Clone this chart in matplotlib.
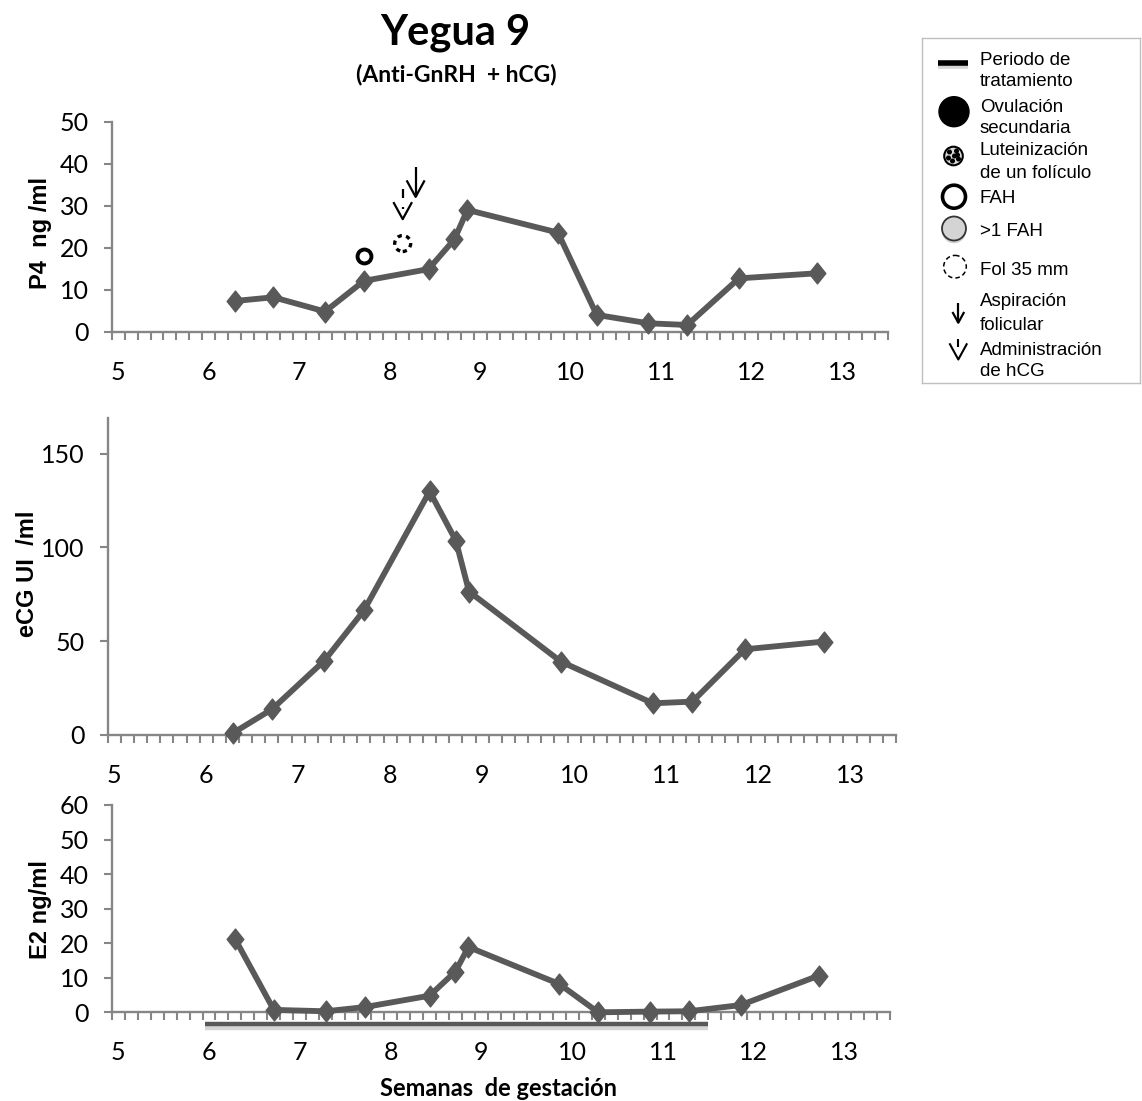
import numpy as np
import matplotlib
matplotlib.use('Agg')
import matplotlib.pyplot as plt
import matplotlib.transforms as mtransforms
import matplotlib.patheffects as pe
from matplotlib.path import Path
from matplotlib.patches import Circle

# dias de gestacion de cada muestra (eje en dias, etiquetas en semanas)
dias = [44, 47, 51, 54, 59, 61, 62, 69, 72, 76, 79, 83, 89]
p4 = [7.3, 8.2, 4.8, 12.1, 14.9, 22.0, 29.0, 23.6, 4.0, 2.0, 1.6, 12.7, 13.9]
dias_ecg = [44, 47, 51, 54, 59, 61, 62, 69, 76, 79, 83, 89]
ecg = [0.9, 13.7, 39.7, 66.4, 129.9, 103.6, 76.5, 39.1, 16.9, 17.8, 45.7, 49.8]
e2 = [21.3, 0.7, 0.3, 1.5, 4.8, 11.8, 18.9, 8.2, 0.0, 0.2, 0.3, 2.1, 10.6]
semanas = [5, 6, 7, 8, 9, 10, 11, 12, 13]

# eventos marcados sobre la curva de P4 (dia, valor)
fah = (54, 18.0)
fol35 = (57, 21.0)
aspiracion = (58, 32.1)
hcg = (57, 26.8)
tratamiento = [41.7, 80.5]

W, H = 1142, 1101
gris = '#868686'
linea = '#595959'

plt.rcParams['font.family'] = ['Lato', 'DejaVu Sans']
fig = plt.figure(figsize=(W / 100, H / 100), dpi=100)


def ejes_px(l, r, t, b):
    return fig.add_axes([l / W, 1 - b / H, (r - l) / W, (b - t) / H])


diamante = Path([(0, 1), (0.8, 0), (0, -1), (-0.8, 0), (0, 1)],
                [Path.MOVETO, Path.LINETO, Path.LINETO, Path.LINETO, Path.CLOSEPOLY])


def estilo(ax, ymax, yticks):
    ax.set_xlim(34.5, 94.5)
    ax.set_ylim(0, ymax)
    for s in ['top', 'right']:
        ax.spines[s].set_visible(False)
    for s in ['left', 'bottom']:
        ax.spines[s].set_color(gris)
        ax.spines[s].set_linewidth(1.7)
    ax.set_yticks(yticks)
    ax.set_xticks([s * 7 for s in semanas])
    ax.set_xticklabels([str(s) for s in semanas])
    ax.set_xticks(np.arange(34.5, 94.6, 1), minor=True)
    ax.tick_params(axis='x', which='major', length=0, pad=21, labelsize=18)
    ax.tick_params(axis='x', which='minor', length=6, width=1.5, color=gris)
    ax.tick_params(axis='y', length=5.5, width=1.5, color=gris, pad=11, labelsize=18)


def serie(ax, x, y):
    ax.plot(x, y, color=linea, lw=4.2, marker=diamante, ms=15,
            mfc=linea, mec=linea, clip_on=False, zorder=3)


def flecha(ax, x, y, s=1.0, lw=1.6, hcg_tipo=False, raya=(21, 30), punto=True):
    # punta en (x, y); geometria en pixeles
    t = mtransforms.Affine2D() + mtransforms.ScaledTranslation(x, y, ax.transData)
    kw = dict(color='k', lw=lw, transform=t, clip_on=False, solid_capstyle='butt')
    if not hcg_tipo:
        ax.plot([0, 0], [0, 30 * s], **kw)
        ax.plot([-9 * s, 0, 9 * s], [16.5 * s, 0, 16.5 * s], **kw)
    else:
        ax.plot([-9.3 * s, 0, 9.3 * s], [17 * s, 0, 17 * s], **kw)
        ax.plot([0, 0], [raya[0] * s, raya[1] * s], **kw)
        if punto:
            ax.plot([0, 0], [10.5 * s, 12 * s], **kw)


# ---- P4 ----
ax1 = ejes_px(111.7, 887.7, 121.7, 331.7)
estilo(ax1, 50, range(0, 51, 10))
serie(ax1, dias, p4)
ax1.plot(*fah, marker='o', ms=10, mfc='none', mec='k', mew=2.8, zorder=4)
ax1.scatter([fol35[0]], [fol35[1]], s=11.5 ** 2, facecolors='none', edgecolors='k',
            linewidths=2.4, linestyle=(0, (1.3, 1.3)), zorder=4)
flecha(ax1, aspiracion[0], aspiracion[1])
flecha(ax1, hcg[0], hcg[1], hcg_tipo=True)

# ---- eCG ----
ax2 = ejes_px(107.7, 896, 418, 735)
estilo(ax2, 169, [0, 50, 100, 150])
serie(ax2, dias_ecg, ecg)

# ---- E2 ----
ax3 = ejes_px(111.7, 890, 805, 1012.3)
estilo(ax3, 60, range(0, 61, 10))
serie(ax3, dias, e2)
ax3.plot(tratamiento, [-3.5, -3.5], color='#595959', lw=3.2, clip_on=False,
         solid_capstyle='butt',
         path_effects=[pe.SimpleLineShadow(offset=(0, -2.5), shadow_color='#888888', alpha=0.35),
                       pe.Normal()])

# etiquetas de ejes
lab = dict(rotation=90, ha='center', va='center', fontsize=17, fontweight='bold',
           family=['Liberation Sans', 'DejaVu Sans'])
fig.text(40 / W, 1 - 233 / H, 'P4  ng /ml', **lab)
fig.text(28 / W, 1 - 574 / H, 'eCG UI  /ml', **lab)
fig.text(40 / W, 1 - 910 / H, 'E2 ng/ml', **lab)

fig.text(455 / W, 1 - 44 / H, 'Yegua 9', ha='center', va='baseline',
         fontsize=30, fontweight='bold')
fig.text(456 / W, 1 - 81.7 / H, '(Anti-GnRH  + hCG)', ha='center', va='baseline',
         fontsize=16.5, fontweight='bold')
fig.text(498 / W, 1 - 1096 / H, 'Semanas  de gestación', ha='center', va='baseline',
         fontsize=17, fontweight='bold')

# ---- leyenda (coordenadas en pixeles de la figura) ----
lg = ejes_px(921.7, 1140, 38.3, 383.3)
lg.set_xlim(921.7, 1140)
lg.set_ylim(383.3, 38.3)
lg.set_xticks([])
lg.set_yticks([])
for s in lg.spines.values():
    s.set_color('#bfbfbf')
    s.set_linewidth(1)

lg.plot([938, 968], [63, 63], color='k', lw=4, solid_capstyle='butt',
        path_effects=[pe.SimpleLineShadow(offset=(0, -2.5), shadow_color='#888888', alpha=0.35),
                      pe.Normal()])
lg.add_patch(Circle((954, 111.7), 15, color='k'))
lg.add_patch(Circle((953.5, 156), 9.3, fc='#d9d9d9', ec='k', lw=1.5))
for dx, dy in [(-4, -4), (3, -5), (-5, 2), (1, 0), (5, 3), (-1, 5), (4, -1)]:
    lg.add_patch(Circle((953.5 + dx, 156 + dy), 1.8, color='k'))
lg.add_patch(Circle((954, 196.7), 11.5, fc='none', ec='k', lw=2.6))
lg.add_patch(Circle((954, 228.5), 12, fc='#d4d4d4', ec='#333333', lw=1.3,
                    path_effects=[pe.SimplePatchShadow(offset=(0, -2), alpha=0.25), pe.Normal()]))
lg.add_patch(Circle((955, 266.7), 11.3, fc='none', ec='k', lw=1.1, ls=(0, (3, 2))))
flecha(lg, 958.3, 322.7, s=0.65, lw=1.6)
flecha(lg, 958.3, 359.5, s=0.95, lw=1.5, hcg_tipo=True, raya=(13, 22), punto=False)

txt = dict(fontsize=13.5, family=['Liberation Sans', 'DejaVu Sans'], va='baseline')
textos = [('Periodo de', 58.3), ('tratamiento', 80), ('Ovulación', 105),
          ('secundaria', 126.7), ('Luteinización', 148.3), ('de un folículo', 171.7),
          ('FAH', 196.7), ('>1 FAH', 230), ('Fol 35 mm', 268.3), ('Aspiración', 300),
          ('folicular', 323.3), ('Administración', 348.3), ('de hCG', 370)]
for t, y in textos:
    lg.text(980, y + 6.5, t, **txt)

fig.savefig('out.png', dpi=100)
